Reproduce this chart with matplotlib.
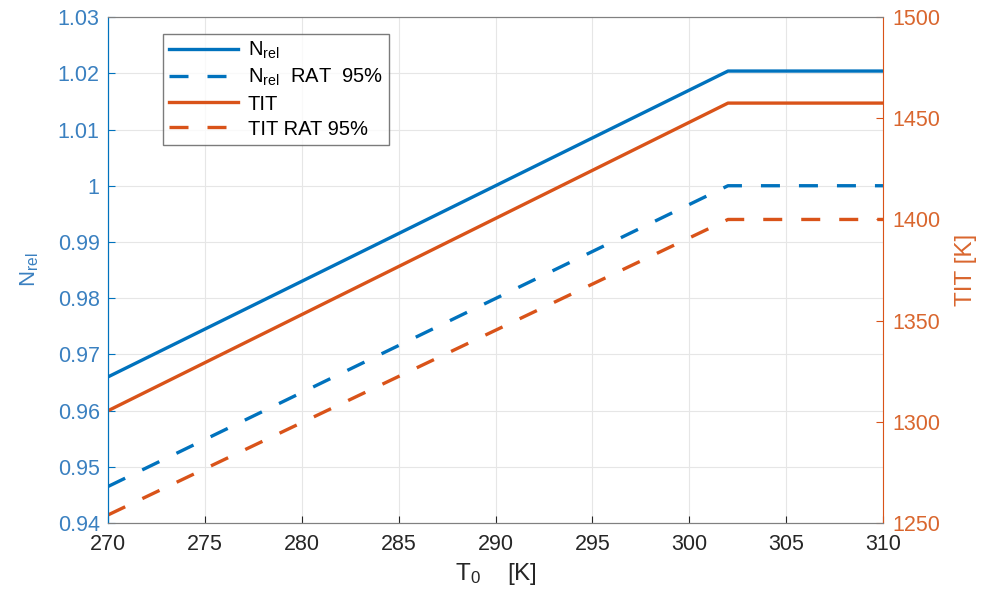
import matplotlib
matplotlib.use("Agg")
import matplotlib.pyplot as plt

plt.rcParams['font.family'] = ['Liberation Sans', 'DejaVu Sans']
plt.rcParams['mathtext.fontset'] = 'custom'
plt.rcParams['mathtext.rm'] = 'Liberation Sans'
plt.rcParams['mathtext.it'] = 'Liberation Sans'

# Data
T0 = [270, 302, 310]
N_rel = [0.966, 1.0204, 1.0204]
N_rel_rat = [0.9465, 1.0000, 1.0000]
TIT = [1305.5, 1457.5, 1457.5]
TIT_rat = [1254, 1400, 1400]

x_ticks = [270, 275, 280, 285, 290, 295, 300, 305, 310]
left_ticks = [0.94, 0.95, 0.96, 0.97, 0.98, 0.99, 1.00, 1.01, 1.02, 1.03]
left_labels = ['0.94', '0.95', '0.96', '0.97', '0.98', '0.99', '1', '1.01', '1.02', '1.03']
right_ticks = [1250, 1300, 1350, 1400, 1450, 1500]

blue = '#0072BD'
orange = '#D95319'
blue_txt = '#3a80c0'
orange_txt = '#D9662E'

fig = plt.figure(figsize=(9.94, 5.89), dpi=100)
ax = fig.add_axes([0.1087, 0.112, 0.7796, 0.859])
ax2 = ax.twinx()

lw = 2.4
d = (5.7, 5.7)
l1, = ax.plot(T0, N_rel, color=blue, lw=lw, label='N$_\\mathregular{rel}$')
l2, = ax.plot(T0, N_rel_rat, color=blue, lw=lw, dashes=d, label='N$_\\mathregular{rel}$  RAT  95%')
l3, = ax2.plot(T0, TIT, color=orange, lw=lw, label='TIT')
l4, = ax2.plot(T0, TIT_rat, color=orange, lw=lw, dashes=d, label='TIT RAT 95%')

ax.set_xlim(270, 310)
ax.set_ylim(0.94, 1.03)
ax2.set_ylim(1250, 1500)
ax.set_xticks(x_ticks)
ax.set_yticks(left_ticks)
ax.set_yticklabels(left_labels)
ax2.set_yticks(right_ticks)

ax.grid(True, color='#e6e6e6', lw=0.8)
ax.set_axisbelow(True)

fs = 15.5
ax.tick_params(axis='x', labelsize=fs, colors='#262626', direction='in', length=5, top=False, pad=8)
ax.tick_params(axis='y', labelsize=fs, colors=blue, labelcolor=blue_txt, direction='in', length=5, pad=6)
ax2.tick_params(axis='y', labelsize=fs, colors=orange, labelcolor=orange_txt, direction='in', length=5, pad=7)

for s in ['top', 'bottom']:
    ax.spines[s].set_color('#808080')
    ax2.spines[s].set_color('#808080')
ax2.spines['left'].set_color(blue)
ax2.spines['right'].set_color(orange)
ax.spines['left'].set_color(blue)
ax.spines['right'].set_visible(False)

ax.set_ylabel('N$_\\mathregular{rel}$', fontsize=16, color=blue_txt, labelpad=12)
ax2.set_ylabel('TIT [K]', fontsize=17.5, color=orange_txt, labelpad=10)
ax.set_xlabel('T$_\\mathregular{0}$    [K]', fontsize=17.5, color='#262626', labelpad=4)

leg = ax2.legend(handles=[l1, l2, l3, l4], loc='upper left', bbox_to_anchor=(0.071, 0.967),
                 fontsize=14.5, frameon=True, fancybox=False, edgecolor='#5a5a5a',
                 handlelength=3.4, labelspacing=0.3, borderpad=0.3, handletextpad=0.5,
                 borderaxespad=0)
leg.get_frame().set_linewidth(1.0)

fig.savefig('out.png', dpi=100)
